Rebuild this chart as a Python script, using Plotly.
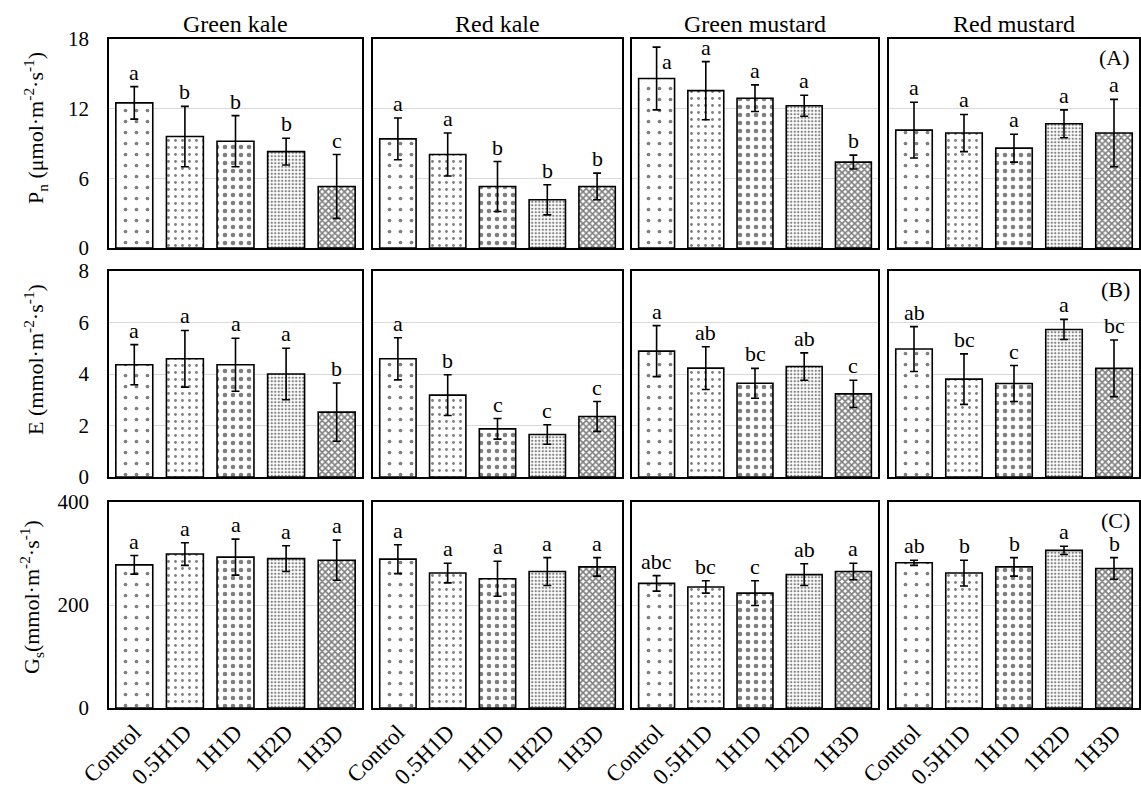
import plotly.graph_objects as go

# ---- data -------------------------------------------------------------
treatments = ["Control", "0.5H1D", "1H1D", "1H2D", "1H3D"]
cultivars = ["Green kale", "Red kale", "Green mustard", "Red mustard"]

# Net photosynthetic rate (µmol m-2 s-1), one row per cultivar
pn_mean = [
    [12.5, 9.6, 9.2, 8.3, 5.3],
    [9.4, 8.05, 5.3, 4.15, 5.3],
    [14.6, 13.55, 12.9, 12.25, 7.4],
    [10.15, 9.9, 8.6, 10.7, 9.9],
]
pn_err = [
    [1.4, 2.6, 2.2, 1.15, 2.75],
    [1.8, 1.85, 2.15, 1.3, 1.15],
    [2.7, 2.5, 1.15, 0.9, 0.6],
    [2.4, 1.6, 1.2, 1.2, 2.9],
]
pn_letters = [
    ["a", "b", "b", "b", "c"],
    ["a", "a", "b", "b", "b"],
    ["a", "a", "a", "a", "b"],
    ["a", "a", "a", "a", "a"],
]

# Transpiration rate (mmol m-2 s-1)
e_mean = [
    [4.36, 4.59, 4.36, 4.0, 2.52],
    [4.59, 3.18, 1.87, 1.65, 2.35],
    [4.89, 4.23, 3.64, 4.29, 3.23],
    [4.97, 3.8, 3.63, 5.73, 4.22],
]
e_err = [
    [0.78, 1.1, 1.03, 1.0, 1.13],
    [0.82, 0.79, 0.4, 0.38, 0.58],
    [0.99, 0.83, 0.58, 0.53, 0.53],
    [0.87, 0.98, 0.7, 0.39, 1.1],
]
e_letters = [
    ["a", "a", "a", "a", "b"],
    ["a", "b", "c", "c", "c"],
    ["a", "ab", "bc", "ab", "c"],
    ["ab", "bc", "c", "a", "bc"],
]

# Stomatal conductance (mmol m-2 s-1)
gs_mean = [
    [278, 299, 293, 290, 287],
    [289, 262, 251, 265, 274],
    [242, 235, 223, 259, 265],
    [282, 262, 274, 306, 271],
]
gs_err = [
    [18, 22, 35, 25, 39],
    [28, 19, 34, 27, 18],
    [15, 12, 24, 21, 16],
    [5, 25, 18, 8, 21],
]
gs_letters = [
    ["a", "a", "a", "a", "a"],
    ["a", "a", "a", "a", "a"],
    ["abc", "bc", "c", "ab", "a"],
    ["ab", "b", "b", "a", "b"],
]

y_ranges = [[0, 18], [0, 8], [0, 400]]
y_ticks = [[0, 6, 12, 18], [0, 2, 4, 6, 8], [0, 200, 400]]
y_titles = [
    "P<sub>n</sub> (μmol·m<sup>-2</sup>·s<sup>-1</sup>)",
    "E (mmol·m<sup>-2</sup>·s<sup>-1</sup>)",
    "G<sub>s</sub>(mmol·m<sup>-2</sup>·s<sup>-1</sup>)",
]
panel_tags = ["(A)", "(B)", "(C)"]

# ---- styling ----------------------------------------------------------
FONT = "Liberation Serif"
W, H = 1141, 790
col_px = [(109, 362), (373, 622), (632, 878), (889, 1139)]
row_px = [(39, 248), (271, 477), (502, 708)]
title_x_px = [36, 34, 31]
title_y_px = [128, 360, 597]

# one fill pattern per treatment, sparse dots through to a dense check
pattern_shape = [".", ".", ".", ".", "x"]
pattern_size = [11, 7, 8, 3.5, 4.5]
pattern_solid = [0.09, 0.13, 0.26, 0.36, 0.6]

means = [pn_mean, e_mean, gs_mean]
errs = [pn_err, e_err, gs_err]
letters = [pn_letters, e_letters, gs_letters]

fig = go.Figure()
annotations = []
layout_axes = {}

for r in range(3):
    for c in range(4):
        idx = r * 4 + c + 1
        xa = "x" if idx == 1 else f"x{idx}"
        ya = "y" if idx == 1 else f"y{idx}"
        xkey = "xaxis" if idx == 1 else f"xaxis{idx}"
        ykey = "yaxis" if idx == 1 else f"yaxis{idx}"

        fig.add_trace(go.Bar(
            x=treatments,
            y=means[r][c],
            xaxis=xa,
            yaxis=ya,
            marker=dict(
                color="white",
                line=dict(color="black", width=1.6),
                pattern=dict(shape=pattern_shape, size=pattern_size,
                             solidity=pattern_solid, fgcolor="black",
                             bgcolor="white", fillmode="overlay"),
            ),
            error_y=dict(type="data", array=errs[r][c], color="black",
                         thickness=1.6, width=4),
            showlegend=False,
        ))

        l, rr = col_px[c]
        t, b = row_px[r]
        layout_axes[xkey] = dict(
            domain=[l / W, rr / W],
            anchor=ya,
            automargin=False,
            type="category",
            categoryorder="array",
            categoryarray=treatments,
            range=[-0.5, 4.5],
            showline=True, mirror=True, linecolor="black", linewidth=1.5,
            showgrid=False, ticks="",
            showticklabels=(r == 2),
            tickangle=-45,
            tickfont=dict(family=FONT, size=23, color="black"),
            fixedrange=True,
        )
        layout_axes[ykey] = dict(
            domain=[1 - b / H, 1 - t / H],
            anchor=xa,
            automargin=False,
            range=y_ranges[r],
            tickvals=y_ticks[r],
            showline=True, mirror=True, linecolor="black", linewidth=1.5,
            showgrid=True, gridcolor="#d9d9d9", gridwidth=1,
            zeroline=False, ticks="",
            showticklabels=(c == 0),
            ticklabelstandoff=14,
            tickfont=dict(family=FONT, size=21, color="black"),
            fixedrange=True,
        )

        # significance letters above the error bars
        for i, lab in enumerate(letters[r][c]):
            top = means[r][c][i] + errs[r][c][i]
            xshift, yanchor = 0, "bottom"
            if top > y_ranges[r][1] * 0.93:
                # no room above the bar: write the letter beside the cap
                xshift, yanchor = 10, "top"
            annotations.append(dict(
                x=treatments[i], y=top, xref=xa, yref=ya,
                text=lab, showarrow=False,
                xanchor="center", yanchor=yanchor,
                xshift=xshift,
                font=dict(family=FONT, size=22, color="black"),
            ))

# column titles
for c, name in enumerate(cultivars):
    l, rr = col_px[c]
    annotations.append(dict(
        x=(l + rr) / 2 / W, y=1 - 24 / H, xref="paper", yref="paper",
        text=name, showarrow=False, xanchor="center", yanchor="middle",
        font=dict(family=FONT, size=24, color="black"),
    ))

# row titles and panel tags
for r in range(3):
    annotations.append(dict(
        x=title_x_px[r] / W, y=1 - title_y_px[r] / H,
        xref="paper", yref="paper",
        text=y_titles[r], textangle=-90, showarrow=False,
        xanchor="center", yanchor="middle",
        font=dict(family=FONT, size=22, color="black"),
    ))
    t, b = row_px[r]
    annotations.append(dict(
        x=1132 / W, y=1 - (t + 4) / H, xref="paper", yref="paper",
        text=panel_tags[r], showarrow=False,
        xanchor="right", yanchor="top",
        font=dict(family=FONT, size=22, color="black"),
    ))

fig.update_layout(
    width=W, height=H,
    margin=dict(l=0, r=0, t=0, b=0, pad=0, autoexpand=False),
    paper_bgcolor="white",
    plot_bgcolor="white",
    bargap=0.27,
    font=dict(family=FONT, color="black"),
    annotations=annotations,
    **layout_axes,
)

fig.write_html("out.html")
